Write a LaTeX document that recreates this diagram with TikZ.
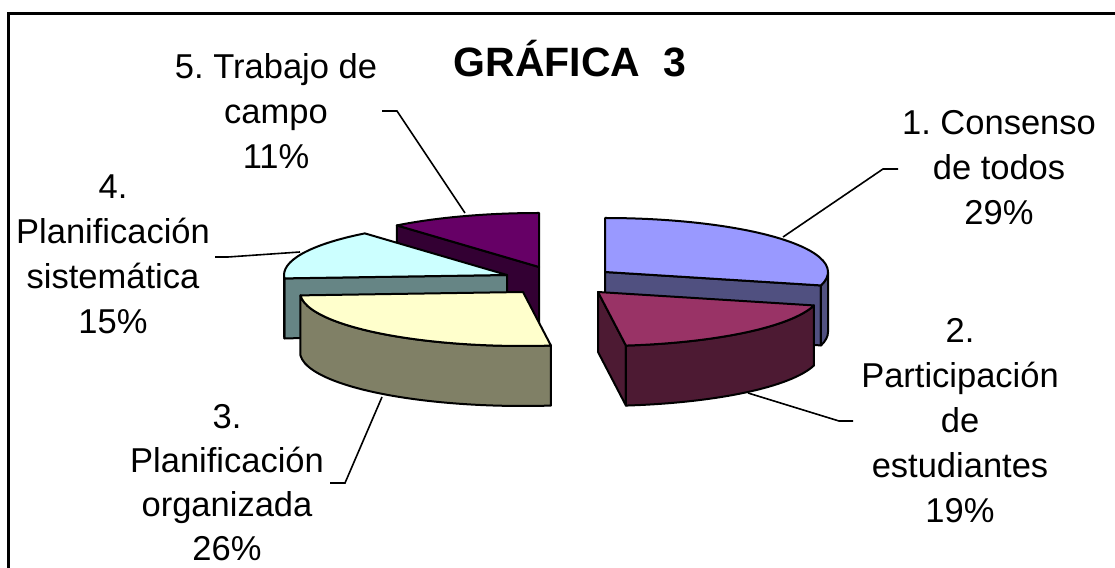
\documentclass[tikz,border=0pt]{standalone}
\usepackage{fontspec}
\setmainfont{Liberation Sans}
\usetikzlibrary{calc}
\frenchspacing
\definecolor{top1}{HTML}{9999FF}\definecolor{side1}{HTML}{505080}
\definecolor{top2}{HTML}{993366}\definecolor{side2}{HTML}{4D1A33}
\definecolor{top3}{HTML}{FFFFCC}\definecolor{side3}{HTML}{808066}
\definecolor{top4}{HTML}{CCFFFF}\definecolor{side4}{HTML}{668585}
\definecolor{top5}{HTML}{660066}\definecolor{side5}{HTML}{330033}
\tikzset{
  piece/.style={draw=black,line width=2pt,line join=round},
  rim/.style={x radius=223pt,y radius=54pt},
  leader/.style={line width=1.6pt},
  lab/.style={align=center,anchor=north,inner sep=0pt,font=\fontsize{34.5}{45}\selectfont}
}
\begin{document}
\begin{tikzpicture}[x=1pt,y=1pt]
\useasboundingbox (0,0) rectangle (1115,567);
\clip (0,0) rectangle (1115,567);
\draw[line width=3pt] (8.5,553) rectangle (1140,-20);%chart frame
\coordinate (c1) at (605,295);
\coordinate (c2) at (598,275);
\coordinate (c3) at (523,275);
\coordinate (c4) at (507,292);
\coordinate (c5) at (539,300);
% 5. Trabajo de campo
\filldraw[piece,fill=side5] (c5) -- ($(c5)+(129.6:223 and 54)$) -- ++(0,-60) -- ($(c5)+(0,-60)$) -- cycle;
\filldraw[piece,fill=top5] (c5) -- ++(0,54) arc[rim,start angle=90,end angle=129.6] -- cycle;
% 4. Planificacion sistematica
\filldraw[piece,fill=side4] (c4) -- ($(c4)+(183.6:223 and 54)$) -- ++(0,-60) -- ($(c4)+(0,-60)$) -- cycle;
\filldraw[piece,fill=side4] ($(c4)+(180:223 and 54)$) arc[rim,start angle=180,end angle=183.6] -- ++(0,-60) arc[rim,start angle=183.6,end angle=180] -- cycle;
\filldraw[piece,fill=top4] (c4) -- ($(c4)+(129.6:223 and 54)$) arc[rim,start angle=129.6,end angle=183.6] -- cycle;
% 3. Planificacion organizada
\filldraw[piece,fill=side3] ($(c3)+(183.6:223 and 54)$) arc[rim,start angle=183.6,end angle=277.2] -- ++(0,-60) arc[rim,start angle=277.2,end angle=183.6] -- cycle;
\filldraw[piece,fill=top3] (c3) -- ($(c3)+(183.6:223 and 54)$) arc[rim,start angle=183.6,end angle=277.2] -- cycle;
% 1. Consenso de todos
\filldraw[piece,fill=side1] (c1) -- ($(c1)+(-14.4:223 and 54)$) -- ++(0,-60) -- ($(c1)+(0,-60)$) -- cycle;
\filldraw[piece,fill=side1] ($(c1)+(-14.4:223 and 54)$) arc[rim,start angle=-14.4,end angle=0] -- ++(0,-60) arc[rim,start angle=0,end angle=-14.4] -- cycle;
\filldraw[piece,fill=top1] (c1) -- ($(c1)+(-14.4:223 and 54)$) arc[rim,start angle=-14.4,end angle=90] -- cycle;
% 2. Participacion de estudiantes
\filldraw[piece,fill=side2] (c2) -- ($(c2)+(-82.8:223 and 54)$) -- ++(0,-60) -- ($(c2)+(0,-60)$) -- cycle;
\filldraw[piece,fill=side2] ($(c2)+(-82.8:223 and 54)$) arc[rim,start angle=-82.8,end angle=-14.4] -- ++(0,-60) arc[rim,start angle=-14.4,end angle=-82.8] -- cycle;
\filldraw[piece,fill=top2] (c2) -- ($(c2)+(-82.8:223 and 54)$) arc[rim,start angle=-82.8,end angle=-14.4] -- cycle;
% labels
\node[anchor=base,font=\fontsize{41}{45}\selectfont\bfseries] (title) at (570,490) {GRÁFICA\ \ 3};
\node[lab] (lab1) at (999,457) {1. Consenso\\de todos\\29\%};
\node[lab] (lab2) at (960,249) {2.\\Participación\\de\\estudiantes\\19\%};
\node[lab,font=\fontsize{34.5}{44}\selectfont] (lab3) at (227,163) {3.\\Planificación\\organizada\\26\%};
\node[lab] (lab4) at (113,392) {4.\\Planificación\\sistemática\\15\%};
\node[lab] (lab5) at (276,514) {5. Trabajo de\\campo\\11\%};
\coordinate (k1) at (898,398); \coordinate (j1) at (883,398); \coordinate (e1) at (783,330);
\coordinate (k2) at (853,146); \coordinate (j2) at (839,146); \coordinate (e2) at (748,174);
\coordinate (k3) at (330,84);  \coordinate (j3) at (345,84);  \coordinate (e3) at (382,170);
\coordinate (k4) at (215,310); \coordinate (j4) at (228,310); \coordinate (e4) at (300,315);
\coordinate (k5) at (382,456); \coordinate (j5) at (397,456); \coordinate (e5) at (465,354);
\foreach \i in {1,...,5}
  \draw[leader] (k\i) -- (j\i) -- (e\i);
\end{tikzpicture}
\end{document}
